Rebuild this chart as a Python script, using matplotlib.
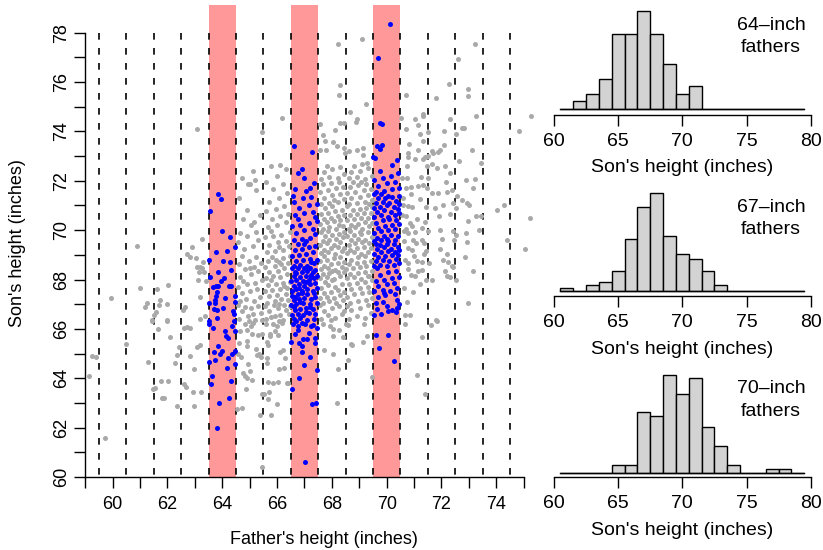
import numpy as np
import matplotlib
matplotlib.use('Agg')
import matplotlib.pyplot as plt

plt.rcParams['font.family'] = ['Liberation Sans', 'DejaVu Sans']
plt.rcParams['lines.scale_dashes'] = False

# father, son heights (inches); columns = father rounded
GRAY_59_63 = """
59.14,64.09 59.23,64.89 59.39,64.85
59.71,61.57 59.93,67.25 60.49,65.38
60.9,69.35 61.01,67.64 61.25,67.05 61.19,66.87 61.29,64.66 61.46,63.57 61.45,66.32 61.44,66.37
61.65,66.0 61.76,63.89 61.81,63.19 61.87,63.19 62.02,63.89 62.09,65.66 62.26,64.63 62.33,64.93
62.42,65.25 62.36,62.89 61.99,66.32 61.53,63.59 62.03,67.78 61.62,67.6 61.74,67.17 61.69,66.97
61.99,67.02 61.57,66.68 61.52,66.58 61.99,66.38
62.6,66.05 62.7,66.08 62.82,66.05 62.61,63.78 62.66,63.66 62.81,64.89 62.95,64.39 62.92,63.43
62.96,62.89 63.09,65.28 63.17,65.34 63.24,63.46 62.91,69.32 62.73,69.05 62.81,68.93 63.05,68.86
63.25,69.63 63.31,68.72 63.2,68.5 63.08,68.5 63.27,68.48 63.15,68.32 63.33,68.31 63.1,68.0
63.41,67.95 63.2,67.31 62.64,66.9 62.55,66.75 63.19,66.42 63.37,66.52 63.06,74.09
"""

GRAY_65 = """
64.83,66.21 65.04,66.13 65.13,66.25 64.65,65.92 64.89,65.94 65.07,65.81 65.32,65.75 65.45,65.81
64.62,65.41 64.91,65.51 64.92,65.31 64.59,65.0 64.68,64.86 64.95,64.59 65.23,65.17 65.28,64.94
65.35,65.0 65.41,64.86 64.74,64.23 64.83,64.09 64.91,64.02 65.1,63.91 65.01,64.29 64.86,63.55
65.45,63.35 64.71,62.78 64.52,62.74 65.38,62.51 65.44,60.42 65.45,73.98
64.62,66.41 64.93,66.52 65.21,66.38 65.41,66.63 64.71,66.72 65.03,66.84 65.29,66.93 64.56,66.97
64.82,66.88 65.12,66.61 65.46,66.36 64.97,66.31 64.63,67.12 64.87,67.23 65.16,67.14 65.37,67.31
64.72,67.44 65.02,67.52 65.26,67.63 64.57,67.71 64.91,67.82 65.19,67.86 65.44,67.97 64.76,67.93
64.66,68.12 65.06,68.21 65.31,68.33 64.84,68.41 65.14,68.52 64.61,68.63 65.42,68.66 64.96,68.77
65.22,68.91 64.71,68.97 65.01,68.46 64.79,69.22 65.11,69.37 64.56,69.51 65.31,69.62 64.92,69.76
65.23,69.94 64.64,69.88 65.06,70.22 64.74,70.47 65.36,70.61 64.89,70.83 65.16,70.34 64.61,71.31
65.24,71.62 64.94,71.88 64.72,72.1 65.02,71.85 65.21,72.02 65.11,72.41
"""

GRAY_66 = """
65.6,66.19 65.86,66.21 65.98,66.13 66.17,66.25 65.74,65.81 65.92,65.92 66.05,65.75 65.62,65.48
65.68,65.35 65.74,65.71 65.62,64.63 65.65,64.81 66.11,65.08 66.2,65.13 66.29,64.84 65.68,63.85
65.86,63.82 66.02,63.86 66.35,63.82 66.41,63.8 66.07,64.36 66.25,64.43 65.52,63.35 65.72,63.46
65.68,63.15 65.98,62.94 65.77,62.51 66.18,74.56 66.1,72.65
65.61,66.42 65.93,66.51 66.21,66.36 66.42,66.62 65.71,66.71 66.02,66.83 66.31,66.77 65.56,66.91
65.87,66.96 66.12,66.56 66.46,66.92 65.76,66.47 66.06,66.33 66.26,66.97 65.62,67.06 65.91,67.12
66.16,67.21 66.41,67.16 65.72,67.32 66.01,67.37 66.32,67.41 65.57,67.52 65.82,67.56 66.11,67.62
66.36,67.66 65.66,67.77 65.96,67.81 66.22,67.86 66.46,67.91 65.77,67.96 66.07,67.02 66.27,67.72
65.61,68.06 65.86,68.16 66.12,68.11 66.36,68.21 65.71,68.31 66.02,68.36 66.26,68.46 65.56,68.52
65.91,68.56 66.16,68.61 66.41,68.66 65.66,68.76 65.96,68.81 66.21,68.86 66.46,68.96 65.81,68.91
66.06,68.71 65.62,69.11 65.91,69.16 66.21,69.21 66.42,69.36 65.72,69.41 66.02,69.52 66.31,69.56
65.56,69.71 65.86,69.76 66.16,69.81 66.46,69.91 65.76,69.96 66.06,69.31 65.66,70.11 66.01,70.21
66.31,70.31 65.81,70.46 66.11,70.56 66.41,70.66 65.61,70.76 65.96,70.86 66.26,70.96 65.71,71.16
66.06,71.31 66.36,71.51 65.86,71.66 66.21,71.86 65.61,71.96 66.01,72.21 66.31,72.46 65.76,72.61
"""

GRAY_68 = """
67.69,66.19 67.93,66.12 68.05,65.98 68.27,65.94 68.05,65.71 68.42,65.67 67.71,65.14 68.03,64.97
68.21,64.36 68.19,63.0
68.22,77.56 68.28,75.88 68.25,75.46 67.55,74.3 68.28,74.33 68.45,74.33 68.1,74.06 67.69,73.87
67.76,73.6 68.03,73.59 68.17,73.42 67.55,73.23 67.8,73.26 68.43,73.32 68.48,73.12
67.61,66.41 67.86,66.56 68.12,66.44 68.37,66.61 67.72,66.74 68.01,66.86 68.26,66.91 67.56,66.96
68.46,66.71 67.96,66.34 67.66,67.06 67.91,67.11 68.16,67.04 68.41,67.16 67.56,67.26 67.81,67.31
68.06,67.24 68.31,67.36 67.71,67.46 67.96,67.51 68.21,67.56 68.46,67.49 67.61,67.66 67.86,67.76
68.11,67.71 68.36,67.81 67.76,67.91 68.01,67.96 67.56,68.06 67.81,68.11 68.06,68.04 68.31,68.16
67.66,68.21 67.91,68.26 68.21,68.31 68.46,68.29 67.61,68.41 67.86,68.46 68.11,68.39 68.36,68.51
67.71,68.56 67.96,68.61 68.21,68.66 68.46,68.71 67.56,68.76 67.81,68.81 68.06,68.86 68.31,68.91
67.71,68.96 68.01,68.36 67.61,69.06 67.86,69.11 68.11,69.04 68.36,69.16 67.71,69.21 67.96,69.26
68.21,69.31 68.46,69.29 67.56,69.41 67.81,69.46 68.06,69.39 68.31,69.51 67.66,69.56 67.91,69.61
68.16,69.66 68.41,69.71 67.76,69.76 68.01,69.81 68.26,69.86 67.61,69.91 67.86,69.96 68.46,69.94
67.66,70.06 67.91,70.11 68.16,70.04 68.41,70.16 67.56,70.26 67.81,70.31 68.06,70.36 68.31,70.41
67.71,70.46 67.96,70.51 68.21,70.56 68.46,70.61 67.61,70.66 67.86,70.71 68.11,70.76 68.36,70.81
67.76,70.91 68.01,70.96 68.26,70.21 67.61,71.06 67.91,71.11 68.21,71.16 68.46,71.26 67.71,71.31
68.01,71.41 68.31,71.46 67.56,71.56 67.86,71.61 68.16,71.71 68.41,71.76 67.66,71.86 67.96,71.91
68.26,71.96 68.06,71.21 67.61,72.06 67.91,72.16 68.21,72.11 68.46,72.26 67.71,72.36 68.01,72.46
68.31,72.56 67.81,72.61
"""

GRAY_69 = """
68.51,66.21 68.6,66.16 69.17,66.19 68.73,65.35 69.27,65.71 69.12,65.48 68.68,65.38 68.6,64.73
69.45,64.05
69.09,77.73 69.26,75.11 68.66,74.78 68.93,74.49 68.87,74.37 68.64,73.2 68.9,73.24 69.13,73.34
69.12,73.03 69.27,72.7
68.61,66.41 68.91,66.51 69.21,66.46 69.41,66.66 68.71,66.76 69.01,66.86 69.31,66.96 68.56,66.91
68.66,67.06 68.96,67.11 69.26,67.16 69.46,67.26 68.56,67.31 68.81,67.41 69.11,67.46 69.36,67.51
68.71,67.61 69.01,67.66 69.31,67.71 68.61,67.81 68.91,67.86 69.21,67.91 69.46,67.96 68.56,68.06
68.81,68.11 69.06,68.04 69.31,68.16 68.66,68.21 68.96,68.26 69.21,68.31 69.46,68.36 68.52,68.41
68.76,68.46 69.01,68.51 69.26,68.56 68.61,68.61 68.91,68.66 69.16,68.71 69.41,68.76 68.71,68.81
68.96,68.91 69.21,68.96 69.36,68.14 68.56,69.06 68.81,69.11 69.06,69.04 69.31,69.11 68.66,69.21
68.91,69.26 69.16,69.31 69.41,69.29 68.61,69.41 68.86,69.46 69.11,69.51 69.36,69.49 68.71,69.61
68.96,69.66 69.21,69.59 69.46,69.71 68.56,69.76 68.81,69.81 69.06,69.86 69.31,69.91 68.66,69.96
69.01,69.94 68.61,70.06 68.86,70.11 69.11,70.04 69.36,70.16 68.71,70.21 68.96,70.26 69.21,70.31
69.46,70.29 68.56,70.41 68.81,70.46 69.06,70.51 69.31,70.49 68.66,70.61 68.91,70.66 69.16,70.71
69.41,70.69 68.76,70.81 69.01,70.86 69.26,70.91 68.56,70.96 69.46,70.94 68.61,71.06 68.91,71.11
69.21,71.16 69.46,71.21 68.71,71.31 69.01,71.36 69.31,71.41 68.56,71.51 68.86,71.56 69.16,71.61
69.41,71.66 68.66,71.76 68.96,71.81 69.26,71.86 68.76,71.96 69.06,71.94 69.36,71.04 68.61,72.11
68.91,72.16 69.21,72.06 69.46,72.21 68.71,72.36 69.01,72.41 69.31,72.51 68.81,72.61 69.11,72.66
"""

GRAY_71_75 = """
70.72,75.46 71.33,74.72 71.34,74.61 70.51,74.56 71.02,74.49 71.16,74.24 70.72,74.11 71.21,73.9
70.83,73.48 71.34,73.6 71.16,73.23 70.78,73.14 70.77,72.97 71.05,72.89 71.34,72.89 71.41,72.98
70.73,72.61 71.46,72.59 70.55,72.12 70.73,72.12 71.25,72.16 70.71,71.71 70.89,71.74 71.13,71.8
71.34,71.82 71.48,71.71 70.61,71.03 70.79,70.99 70.94,70.93 71.44,70.93 70.55,70.63 70.69,70.56
70.85,70.29 70.91,70.16 71.4,70.32 70.65,69.95 70.77,69.89 71.04,69.91 71.28,70.09 70.97,69.62
71.07,69.48 71.28,69.62 71.38,69.48 70.79,69.28 70.91,69.21 71.01,68.97 71.38,69.05 71.44,69.14
70.67,68.81 70.79,68.67 71.1,68.75 70.79,68.43 71.16,68.33 71.28,68.4 71.04,68.13 71.44,68.0
70.96,67.48 70.85,66.58 70.67,66.58 70.62,67.66 70.67,66.21 71.29,65.67 71.11,64.12 71.39,63.36
70.6,71.3 70.9,71.45 71.2,71.25 70.7,70.05 71.1,70.45 70.65,69.55 71.3,68.7 70.9,68.2
71.2,67.8 70.75,67.1
71.8,75.34 72.31,74.52 71.52,73.99 72.09,74.03 72.1,73.45 71.96,73.26 71.86,73.18 71.64,73.22
71.7,73.13 71.51,73.0 72.28,75.94 71.64,72.66 72.13,72.61 71.83,72.52 71.52,72.12 72.17,71.95
72.31,72.32 71.64,71.51 71.86,71.52 72.22,71.56 72.4,71.62 71.77,70.9 72.07,71.03 72.41,71.1
71.91,70.56 72.31,70.66 71.52,69.95 71.95,70.02 72.41,69.95 72.01,69.64 72.47,69.59 71.95,69.24
72.19,69.04 71.56,68.67 72.05,68.78 72.23,68.7 72.37,68.54 72.13,68.36 72.43,68.51 71.67,67.96
72.19,68.13 72.31,68.1 71.79,66.37 71.61,66.16 71.83,66.32
73.24,77.54 72.6,76.95 72.97,75.71 72.97,75.42 73.26,74.61 72.53,73.91 72.74,74.14 72.84,74.12
73.12,73.24 72.65,72.81 73.44,72.71 72.56,71.4 72.74,71.24 72.92,71.1 73.01,71.01 73.14,71.71
72.88,72.02 73.23,72.09 72.52,70.9 72.96,70.39 73.26,70.59 73.43,70.56 72.53,69.82 72.9,69.89
73.37,70.02 72.92,69.52 72.86,68.9 73.16,68.33 72.52,68.0 72.96,67.05
74.02,70.83 74.28,71.03 74.38,69.62
75.26,74.64 74.82,74.0 75.23,70.49 75.05,69.24
"""

BLUE_64 = """
63.79,62.0 63.89,63.01 64.24,63.21 64.16,64.4 63.61,64.09 63.58,63.78 64.32,63.89
63.86,65.31 63.71,65.08 63.98,65.11 63.92,64.97 63.51,64.66 63.73,64.74 64.22,64.84 64.35,64.97
64.46,65.1 64.46,64.57
63.51,66.21 63.65,66.02 64.1,65.92 64.34,66.12 64.13,65.71 64.2,65.62 63.53,66.33 63.82,66.43
64.45,65.9 64.42,66.3
63.82,67.48 63.76,67.32 63.75,67.19 63.74,67.05 63.52,67.03 63.7,66.82 63.82,66.77 64.01,66.86
64.38,66.74 64.45,67.1 64.42,66.6 64.47,67.35 64.1,67.25
63.86,68.32 64.31,68.39 63.56,68.1 64.08,68.05 63.97,67.94 63.66,67.7 63.76,67.73 63.83,67.75
64.23,67.74 64.33,67.74
63.78,69.1 64.19,69.16 63.52,68.79 64.02,68.74 64.29,68.71 64.45,69.3
63.98,69.98 64.29,69.74 63.86,71.45 63.95,71.28 63.56,70.76
"""

BLUE_67 = """
67.01,60.6 67.29,62.94 67.42,62.98 66.81,64.02 66.54,63.57 67.44,64.32
66.9,65.08 66.97,64.54 66.91,65.31 66.8,65.42 66.52,65.45 67.38,65.44 67.2,64.85
66.57,66.21 66.77,66.12 66.9,66.25 67.02,66.21 67.23,66.12 67.3,66.16 67.44,66.02 66.77,65.94
66.65,65.78 66.96,65.58 67.08,65.58 67.38,65.65 66.6,66.4 66.85,66.45 67.1,66.35 67.35,66.42
67.15,65.85 66.7,66.3
66.55,66.55 66.75,66.6 66.95,66.55 67.15,66.65 67.4,66.6 66.65,66.75 66.85,66.8 67.05,66.85
67.3,66.8 66.52,66.95 66.7,67.0 66.95,67.05 67.2,67.0 67.45,67.05 66.6,67.15 66.8,67.2
67.0,67.25 67.25,67.2 67.4,67.3 66.55,67.35 66.75,67.4 66.9,67.45 67.1,67.4 67.35,67.45
66.65,67.3 67.05,66.7 66.85,67.1 67.2,66.9 66.6,66.9
66.55,67.55 66.7,67.6 66.9,67.55 67.1,67.6 67.3,67.55 67.45,67.65 66.6,67.75 66.8,67.8
67.0,67.75 67.2,67.8 67.4,67.85 66.52,67.95 66.7,68.0 66.95,67.95 67.15,68.0 67.35,68.05
66.6,68.15 66.85,68.1 67.05,68.15 67.25,68.2 67.45,68.15 66.65,68.3 66.9,68.3 67.1,68.35
67.3,68.3 66.55,68.45 66.75,68.45 67.0,68.45 67.2,68.45 67.4,68.4 66.8,67.65 67.05,67.9
67.25,68.1 66.7,68.25
66.6,68.55 66.85,68.6 67.1,68.55 67.35,68.65 66.7,68.75 66.95,68.8 67.2,68.85 67.45,68.8
66.55,68.95 66.8,69.0 67.05,69.05 67.3,69.1 66.65,69.2 66.9,69.25 67.15,69.3 67.4,69.35
66.75,69.45 67.0,69.45 67.25,68.7
66.6,69.6 66.9,69.65 67.2,69.7 67.4,69.85 66.7,69.9 67.0,70.0 67.3,70.05 66.55,70.15
66.85,70.2 67.15,70.3 67.45,70.35 66.75,70.45 67.05,69.55
66.65,70.6 67.0,70.7 67.3,70.75 66.8,70.9 67.15,71.0 67.45,71.05 66.6,71.15 66.95,71.3
67.25,71.35 66.59,71.37 67.4,70.55
66.9,72.48 66.97,72.11 66.64,71.67 67.2,71.7 67.35,71.9 66.75,72.3 67.05,71.6
66.6,73.4 67.26,73.18
"""

BLUE_70 = """
70.28,64.71 69.71,65.21 70.06,65.77 69.6,65.75
69.55,66.55 69.8,66.6 70.06,66.71 70.35,66.7 69.65,66.8 70.18,66.78 70.37,66.85 70.45,67.02
69.6,67.05 69.85,67.1 70.0,66.92 70.37,67.19 69.7,67.3 69.94,67.39 70.3,67.4 69.9,67.45
69.55,67.55 69.88,67.59 70.12,67.52 70.37,67.66 69.7,67.75 70.0,67.8 70.25,67.85 69.6,67.95
69.9,68.0 70.2,68.05 70.45,68.1 69.75,68.2 70.05,68.3 70.35,68.35 69.65,68.45
69.55,68.55 69.75,68.6 70.0,68.55 70.25,68.6 70.45,68.65 69.6,68.75 69.85,68.8 70.1,68.75
70.35,68.85 69.7,68.9 69.95,68.95 70.2,69.0 70.42,69.0 69.55,69.05 69.8,69.1 70.05,69.15
70.3,69.1 69.65,69.25 69.9,69.3 70.15,69.25 70.4,69.3 69.75,69.4 70.0,69.45 70.25,69.45
69.6,69.45 70.45,69.2
69.55,69.55 69.8,69.6 70.05,69.55 70.3,69.6 69.65,69.7 69.9,69.75 70.15,69.8 70.4,69.75
69.55,69.9 69.8,69.95 70.05,70.0 70.3,70.05 69.7,70.1 69.95,70.15 70.2,70.2 70.45,70.25
69.6,70.3 69.85,70.4 70.1,70.45 70.35,70.4 70.0,69.65
69.55,70.55 69.8,70.6 70.05,70.55 70.3,70.6 70.45,70.7 69.65,70.75 69.9,70.8 70.15,70.75
70.4,70.85 69.55,70.9 69.75,70.95 70.0,71.0 70.25,70.95 70.45,71.05 69.6,71.1 69.85,71.15
70.1,71.1 70.35,71.2 69.7,71.3 69.95,71.3 70.2,71.35 70.45,71.4 69.55,71.45 69.8,71.45
70.05,71.4
69.6,71.55 69.9,71.6 70.2,71.65 70.45,71.7 69.7,71.8 70.0,71.9 70.3,71.95 69.55,72.05
69.85,72.1 70.15,72.2 70.4,72.3 69.75,72.4
70.38,72.85 69.51,72.95 69.57,72.91 69.82,73.45 69.66,73.41 69.77,73.27 70.2,72.65
69.76,74.33 69.84,74.3 69.67,76.96 70.11,78.34
"""

strips = [64, 67, 70]
blue_sets = [BLUE_64, BLUE_67, BLUE_70]


def pts(s):
    a = np.array([p.split(',') for p in s.split()], dtype=float)
    return a[:, 0], a[:, 1]


gray = [pts(s) for s in (GRAY_59_63, GRAY_65, GRAY_66, GRAY_68, GRAY_69, GRAY_71_75)]
gx = np.concatenate([g[0] for g in gray])
gy = np.concatenate([g[1] for g in gray])
blue = [pts(s) for s in blue_sets]

W, H = 823, 550
fig = plt.figure(figsize=(W / 100, H / 100), dpi=100)


def box(l, t, r, b):
    return [l / W, 1 - b / H, (r - l) / W, (b - t) / H]


# main scatter
ax = fig.add_axes(box(85.3, 5, 540.1, 477))
ax.set_xlim(59, 75.6)
ax.set_ylim(60, 79.12)
for f in strips:
    ax.axvspan(f - 0.5, f + 0.5, color='#ff9999', lw=0, zorder=0)
for xv in np.arange(59.5, 75, 1):
    ax.plot([xv, xv], [78, 60], color='black', lw=1.2, dashes=(4.8, 6.0), zorder=1)
ax.scatter(gx, gy, s=13, color='#a9a9a9', lw=0, zorder=2)
for bx, by in blue:
    ax.scatter(bx, by, s=13, color='blue', lw=0, zorder=3)

for s in ('top', 'right'):
    ax.spines[s].set_visible(False)
ax.spines['left'].set_bounds(60, 78)
ax.spines['bottom'].set_bounds(59, 75)
ax.set_xticks(range(59, 76))
ax.set_xticklabels([str(v) if v % 2 == 0 else '' for v in range(59, 76)])
ax.set_yticks(range(60, 79))
ax.set_yticklabels([str(v) if v % 2 == 0 else '' for v in range(60, 79)])
ax.tick_params(length=8, width=1, labelsize=13, pad=6)
ax.tick_params(axis='y', labelrotation=90, pad=3)
for lab in ax.get_yticklabels():
    lab.set_va('center')
for s in ('left', 'bottom'):
    ax.spines[s].set_linewidth(1)
ax.set_xlabel("Father's height (inches)", fontsize=13, va='center')
ax.xaxis.set_label_coords((324 - 85.3) / 454.8, -63 / 472)
ax.set_ylabel("Son's height (inches)", fontsize=13, va='center')
ax.yaxis.set_label_coords(-68 / 454.8, (477 - 243) / 472)

# histograms of sons' heights in each strip
edges = np.arange(60.5, 80, 1)
axis_y = [115, 296.3, 477.3]
base_y = [109, 291, 472.7]
HH = 118
for f, (bx, by), ya, yb in zip(strips, blue, axis_y, base_y):
    h = fig.add_axes(box(547.6, ya - HH, 817.1, ya))
    n, _, _ = h.hist(by, bins=edges, color='#d3d3d3', edgecolor='black', lw=1)
    h.plot([60.5, 79.5], [0, 0], color='black', lw=1)
    m = n.max()
    lo = -(ya - yb) / 98 * m
    h.set_ylim(lo, lo + HH / 98 * m)
    h.set_xlim(59.5, 80.5)
    for s in ('top', 'right', 'left'):
        h.spines[s].set_visible(False)
    h.spines['bottom'].set_bounds(60, 80)
    h.spines['bottom'].set_linewidth(1)
    h.set_yticks([])
    h.set_xticks([60, 65, 70, 75, 80])
    h.tick_params(length=8, width=1, labelsize=14, pad=5)
    h.set_xlabel("Son's height (inches)", fontsize=14, va='center')
    h.xaxis.set_label_coords(0.5, -53 / HH)
    top = yb - 98
    fig.text(771 / W, 1 - (top + 14) / H, f'{f}\u2013inch', ha='center', va='center', fontsize=14)
    fig.text(771 / W, 1 - (top + 37) / H, 'fathers', ha='center', va='center', fontsize=14)

fig.savefig('out.png', dpi=100)
